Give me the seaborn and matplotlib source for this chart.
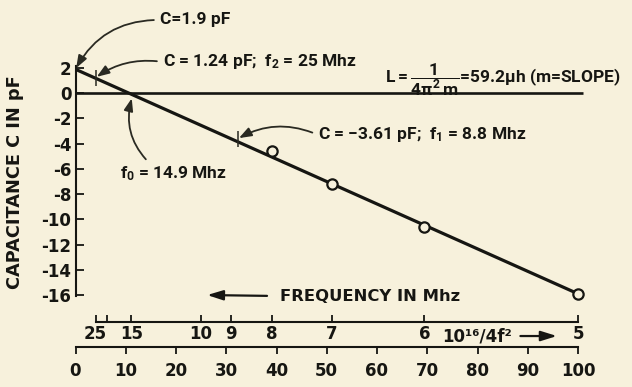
import numpy as np
import pandas as pd
import matplotlib
matplotlib.use("Agg")
import matplotlib.pyplot as plt
from matplotlib import font_manager
import seaborn as sns

# Straight line: capacitance (pF) against 10^16/4f^2 (f in Hz)
line_x = [0.0, 100.0]
line_c = [1.9, -15.9]

# Measured resonance points: frequency (MHz) and capacitance (pF)
meas_freq = [8, 7, 6, 5]
meas_c = [-4.6, -7.2, -10.6, -15.9]

# Points marked on the line
c_start = 1.9
f2_mhz, c2_pf = 25, 1.24
f1_mhz, c1_pf = 8.8, -3.61
f0_mhz = 14.9
zero_level = 0.0

freq_ticks = [25, 15, 10, 9, 8, 7, 6, 5]
freq_minor = [20]
lin_ticks = list(range(0, 101, 10))
c_ticks = list(range(2, -17, -2))


def freq_to_x(f):
    f = np.asarray(f, dtype=float)
    return 2500.0 / np.square(np.clip(f, 1e-6, None))


def x_to_freq(x):
    x = np.asarray(x, dtype=float)
    return 50.0 / np.sqrt(np.clip(x, 1e-6, None))


line_df = pd.DataFrame({"x": line_x, "c": line_c})
meas_df = pd.DataFrame({"x": freq_to_x(meas_freq), "c": meas_c})

paper = "#f7f1dc"
ink = "#161612"
ink2 = "#2a2a22"

sns.set_theme(style="ticks")
avail = {f.name for f in font_manager.fontManager.ttflist}
note_font = ["Roboto", "DejaVu Sans"] if "Roboto" in avail else ["DejaVu Sans"]
plt.rcParams["font.family"] = ["DejaVu Sans"]
plt.rcParams["font.weight"] = "bold"
plt.rcParams["axes.unicode_minus"] = False
plt.rcParams["mathtext.fontset"] = "custom"
for key in ("rm", "it", "bf", "sf"):
    plt.rcParams["mathtext." + key] = note_font[0] + ":bold"
plt.rcParams["text.color"] = ink
plt.rcParams["xtick.color"] = ink
plt.rcParams["ytick.color"] = ink

W, H = 632, 387
fig = plt.figure(figsize=(W / 100, H / 100), dpi=100, facecolor=paper)
ax = fig.add_axes([75.5 / W, 1 - 347 / H, (578 - 75.5) / W, (347 - 65) / H])
ax.set_facecolor("none")
ax.set_xlim(0, 100)
ax.set_ylim(-20.12, 2.24)

# main line and measured points
sns.lineplot(data=line_df, x="x", y="c", ax=ax, color=ink, lw=2.3,
             estimator=None, sort=False, legend=False)
sns.scatterplot(data=meas_df, x="x", y="c", ax=ax, s=55, marker="o",
                facecolor=paper, edgecolor=ink, linewidth=1.6, zorder=5,
                legend=False, clip_on=False)
ax.hlines(zero_level, 0, 101, color=ink, lw=1.9, clip_on=False)

# short marks on the line
ax.plot(freq_to_x([f2_mhz, f1_mhz]), [c2_pf, c1_pf], ls="none", marker="|",
        ms=12, mew=1.1, color=ink2)

# axes styling
for side in ("top", "right"):
    ax.spines[side].set_visible(False)
ax.spines["left"].set_bounds(-16.1, 2.2)
ax.spines["bottom"].set_bounds(0, 100)
for side in ("left", "bottom"):
    ax.spines[side].set_linewidth(1.5)
    ax.spines[side].set_color(ink)
tick_fs = 12
ax.set_yticks(c_ticks)
ax.set_xticks(lin_ticks)
ax.tick_params(axis="y", direction="in", length=6, width=1.3, pad=3, labelsize=tick_fs)
ax.tick_params(axis="x", direction="out", length=5, width=1.3, pad=6, labelsize=tick_fs)
ax.set_xlabel("")
ax.set_ylabel("")

# frequency scale
sec = ax.secondary_xaxis(25 / 282, functions=(x_to_freq, freq_to_x))
sec.set_xticks(freq_ticks)
sec.set_xticklabels([str(f) for f in freq_ticks])
sec.set_xticks(freq_minor, minor=True)
sec.tick_params(which="both", direction="in", length=5, width=1.3, pad=2,
                labelsize=tick_fs, colors=ink)
sec.spines["bottom"].set_bounds(5, 25)
sec.spines["bottom"].set_linewidth(1.5)
sec.spines["bottom"].set_color(ink)

fs = 12.5
head = "-|>,head_length=0.6,head_width=0.22"


def note(text, xy, xytext, rad, relpos=(0, 0.5), **kw):
    ax.annotate(text, xy=xy, xytext=xytext, ha="left", va="center",
                fontsize=fs, fontfamily=note_font, annotation_clip=False,
                arrowprops=dict(arrowstyle=head, color=ink2, lw=1.3,
                                connectionstyle=f"arc3,rad={rad}",
                                shrinkA=2, shrinkB=1, relpos=relpos), **kw)


note("C=1.9 pF", (0, c_start), (16.8, 5.81), 0.3)
note("C = 1.24 pF;  f$_2$ = 25 Mhz", (freq_to_x(f2_mhz), c2_pf), (17.4, 2.48), 0.2)
note("C = \u22123.61 pF;  f$_1$ = 8.8 Mhz", (freq_to_x(f1_mhz), c1_pf), (48.3, -3.31), 0.25)
note("f$_0$ = 14.9 Mhz", (freq_to_x(f0_mhz), zero_level - 0.3), (8.86, -6.40), -0.3,
     relpos=(0.29, 1.0))

ax.text(61.6, 1.05, r"L$=\dfrac{1}{4\pi^{2}\,m}$=59.2$\mu$h (m=SLOPE)",
        ha="left", va="center", fontsize=fs, fontfamily=note_font)

# direction arrows for the two horizontal scales
ax.annotate("FREQUENCY IN Mhz", xy=(26.2, -16.0), xytext=(40.7, -16.08),
            ha="left", va="center", fontsize=11.8, annotation_clip=False,
            arrowprops=dict(arrowstyle="-|>,head_length=0.8,head_width=0.25",
                            color=ink, lw=1.6, shrinkA=7, shrinkB=0,
                            relpos=(0, 0.5)))
ax.annotate("10\u00b9\u2076/4f\u00b2", xy=(95.8, -19.25), xytext=(72.9, -19.25),
            ha="left", va="center", fontsize=12, annotation_clip=False,
            arrowprops=dict(arrowstyle="-|>,head_length=0.8,head_width=0.25",
                            color=ink, lw=1.6, shrinkA=4, shrinkB=0,
                            relpos=(1, 0.5)))

fig.text(15 / W, 1 - 182 / H, "CAPACITANCE C IN pF", rotation=90,
         ha="center", va="center", fontsize=12.8)

fig.savefig("out.png", dpi=100, facecolor=paper)
